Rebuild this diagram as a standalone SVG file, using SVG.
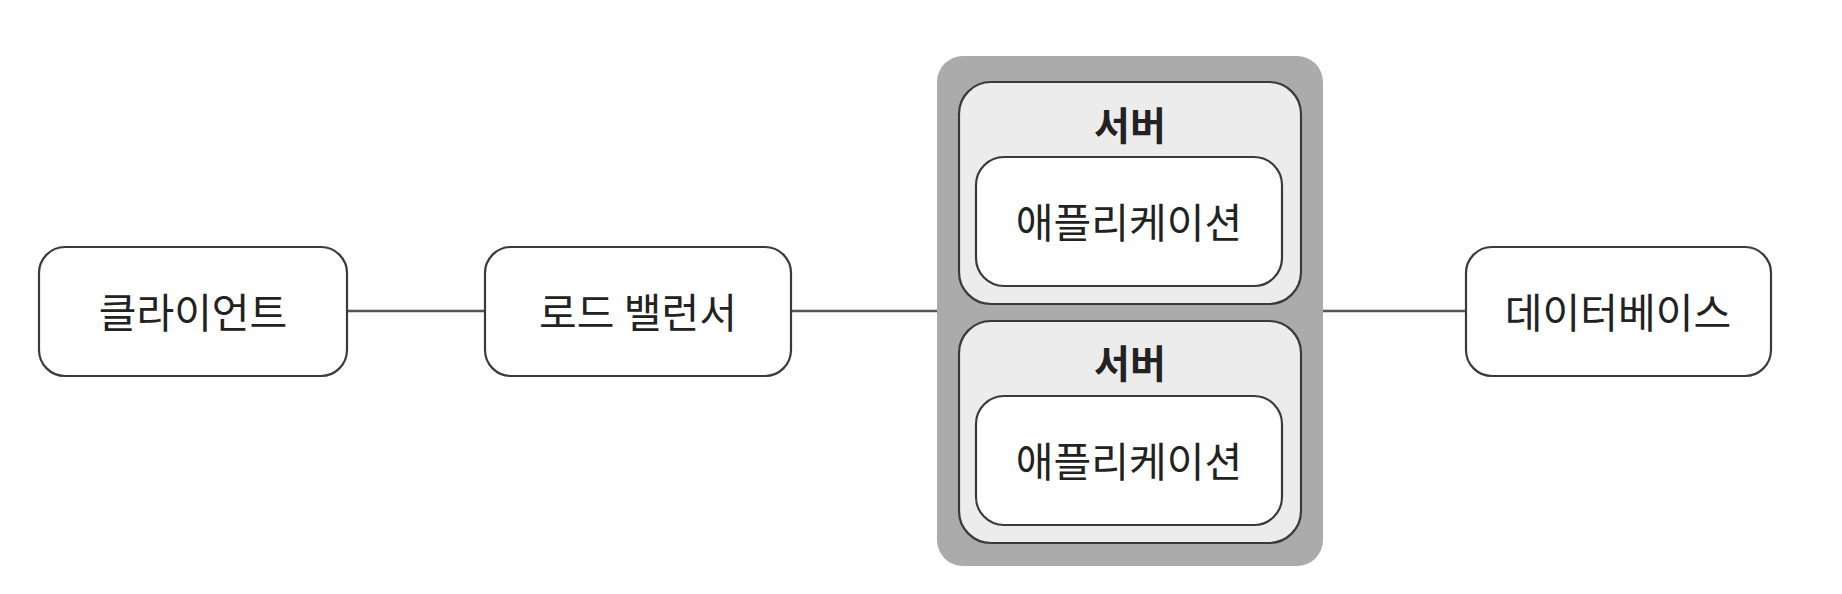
<svg xmlns="http://www.w3.org/2000/svg" width="1842" height="594" viewBox="0 0 1842 594">
<style>
  .node { fill: #ffffff; stroke: #3a3a3a; stroke-width: 2.2; }
  .server { fill: #ececec; stroke: #3a3a3a; stroke-width: 2.2; }
  .cluster { fill: #ababab; stroke: none; }
  .conn { stroke: #555555; stroke-width: 2.5; fill: none; }
  .lbl { font-family: "Noto Sans CJK KR", "Noto Sans", sans-serif; font-size: 41px; fill: #222222; text-anchor: middle; dominant-baseline: central; }
  .title { font-family: "Noto Sans CJK KR", "Noto Sans", sans-serif; font-size: 39px; font-weight: bold; fill: #222222; text-anchor: middle; dominant-baseline: central; }
</style>
<rect x="0" y="0" width="1842" height="594" fill="#ffffff"/>
<g id="connectors">
  <line class="conn" x1="347" y1="311" x2="485" y2="311"/>
  <line class="conn" x1="791" y1="311" x2="937" y2="311"/>
  <line class="conn" x1="1323" y1="311" x2="1466" y2="311"/>
</g>
<g id="client">
  <rect class="node" x="39" y="247" width="308" height="129" rx="26"/>
  <text class="lbl" x="193" y="310">클라이언트</text>
</g>
<g id="load-balancer">
  <rect class="node" x="485" y="247" width="306" height="129" rx="26"/>
  <text class="lbl" x="638" y="310">로드 밸런서</text>
</g>
<g id="server-cluster">
  <rect class="cluster" x="937" y="56" width="386" height="510" rx="26"/>
</g>
<g id="server1">
  <rect class="server" x="959" y="82" width="342" height="222" rx="32"/>
  <text class="title" x="1130" y="123">서버</text>
  <g id="app1">
    <rect class="node" x="976" y="157" width="306" height="129" rx="28"/>
    <text class="lbl" x="1129" y="220">애플리케이션</text>
  </g>
</g>
<g id="server2">
  <rect class="server" x="959" y="321" width="342" height="222" rx="32"/>
  <text class="title" x="1130" y="361">서버</text>
  <g id="app2">
    <rect class="node" x="976" y="396" width="306" height="129" rx="28"/>
    <text class="lbl" x="1129" y="459">애플리케이션</text>
  </g>
</g>
<g id="database">
  <rect class="node" x="1466" y="247" width="305" height="129" rx="26"/>
  <text class="lbl" x="1618" y="310">데이터베이스</text>
</g>
</svg>
